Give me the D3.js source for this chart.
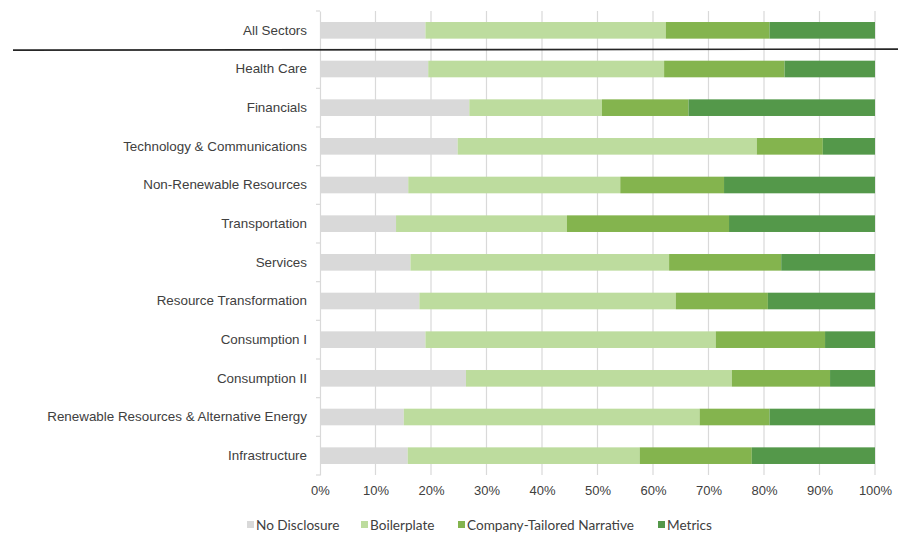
<!DOCTYPE html>
<html>
<head>
<meta charset="utf-8">
<script src="https://cdn.jsdelivr.net/npm/d3@7"></script>
<style>
  html, body { margin: 0; padding: 0; background: #fff; }
  svg { display: block; font-family: Lato, "Open Sans", sans-serif; }
</style>
</head>
<body>
<svg id="chart" width="898" height="533"></svg>
<script>
// Sectors, top to bottom
const sectors = [
  "All Sectors", "Health Care", "Financials", "Technology & Communications",
  "Non-Renewable Resources", "Transportation", "Services", "Resource Transformation",
  "Consumption I", "Consumption II", "Renewable Resources & Alternative Energy", "Infrastructure"
];

// Share of disclosures by type (percent)
const noDisclosure   = [19.0, 19.5, 26.9, 24.8, 15.9, 13.7, 16.3, 17.9, 19.0, 26.3, 15.1, 15.8];
const boilerplate    = [43.3, 42.5, 23.9, 53.9, 38.2, 30.8, 46.6, 46.2, 52.3, 47.9, 53.3, 41.8];
const tailored       = [18.7, 21.7, 15.6, 11.9, 18.7, 29.2, 20.2, 16.6, 19.7, 17.7, 12.6, 20.2];
const metrics        = [19.0, 16.3, 33.6,  9.4, 27.2, 26.3, 16.9, 19.3,  9.0,  8.1, 19.0, 22.2];

const seriesNames = ["No Disclosure", "Boilerplate", "Company-Tailored Narrative", "Metrics"];
const seriesColors = ["#d9d9d9", "#bddc9e", "#84b44e", "#54984a"];
const xTicks = [0, 10, 20, 30, 40, 50, 60, 70, 80, 90, 100];

const rows = sectors.map((s, i) => ({
  sector: s,
  "No Disclosure": noDisclosure[i],
  "Boilerplate": boilerplate[i],
  "Company-Tailored Narrative": tailored[i],
  "Metrics": metrics[i]
}));

const svg = d3.select("#chart");
const margin = { left: 320, right: 23, top: 11, bottom: 58 };
const W = 898, H = 533;

const x = d3.scaleLinear().domain([0, 100]).range([margin.left, W - margin.right]);
const y = d3.scaleBand().domain(sectors).range([margin.top, H - margin.bottom]).paddingInner(0.57).paddingOuter(0.285);

const textColor = "#404040";
const gridColor = "#d9d9d9";

// vertical gridlines
svg.append("g")
  .selectAll("line")
  .data(xTicks.slice(1))
  .join("line")
  .attr("x1", d => x(d)).attr("x2", d => x(d))
  .attr("y1", margin.top).attr("y2", H - margin.bottom)
  .attr("stroke", gridColor).attr("stroke-width", 1.2);

// stacked bars
const stack = d3.stack().keys(seriesNames);
const layers = stack(rows);
const color = d3.scaleOrdinal().domain(seriesNames).range(seriesColors);

svg.append("g")
  .selectAll("g")
  .data(layers)
  .join("g")
  .attr("fill", d => color(d.key))
  .selectAll("rect")
  .data(d => d)
  .join("rect")
  .attr("x", d => x(d[0]))
  .attr("width", d => x(d[1]) - x(d[0]))
  .attr("y", d => y(d.data.sector))
  .attr("height", y.bandwidth());

// category axis on the left
const yAxis = d3.axisLeft(y).tickSize(0).tickPadding(13);
const gy = svg.append("g").attr("transform", `translate(${margin.left},0)`).call(yAxis);
gy.select(".domain").attr("stroke", gridColor).attr("stroke-width", 1.2);
gy.selectAll("text").attr("fill", textColor).style("font-size", "13.4px");

// small tick marks at band boundaries
const bounds = sectors.map(s => y(s) - y.step() * y.paddingInner() / 2);
bounds.push(H - margin.bottom);
bounds[0] = margin.top;
svg.append("g")
  .selectAll("line")
  .data(bounds)
  .join("line")
  .attr("x1", margin.left - 4).attr("x2", margin.left)
  .attr("y1", d => d).attr("y2", d => d)
  .attr("stroke", gridColor).attr("stroke-width", 1.2);

// percentage axis
const xAxis = d3.axisBottom(x).tickValues(xTicks).tickFormat(d => d + "%").tickSize(0).tickPadding(11);
const gx = svg.append("g").attr("transform", `translate(0,${H - margin.bottom})`).call(xAxis);
gx.select(".domain").remove();
gx.selectAll("text").attr("fill", textColor).style("font-size", "13px");

// separator under the aggregate row
const sepY = (y("All Sectors") + y.bandwidth() + y("Health Care")) / 2;
svg.append("line")
  .attr("x1", 13).attr("x2", W)
  .attr("y1", sepY + 0.5).attr("y2", sepY - 0.5)
  .attr("stroke", "#262626").attr("stroke-width", 1.6);

// legend
const legendX = [247, 361, 458, 658];
const leg = svg.append("g").attr("transform", "translate(0,525)");
const li = leg.selectAll("g").data(seriesNames).join("g")
  .attr("transform", (d, i) => `translate(${legendX[i]},0)`);
li.append("rect").attr("x", 0).attr("y", -4).attr("width", 7).attr("height", 7).attr("fill", d => color(d));
li.append("text").attr("x", 9).attr("y", 0).attr("dy", "0.35em")
  .attr("fill", textColor).style("font-size", "13.6px").text(d => d);
</script>
</body>
</html>
